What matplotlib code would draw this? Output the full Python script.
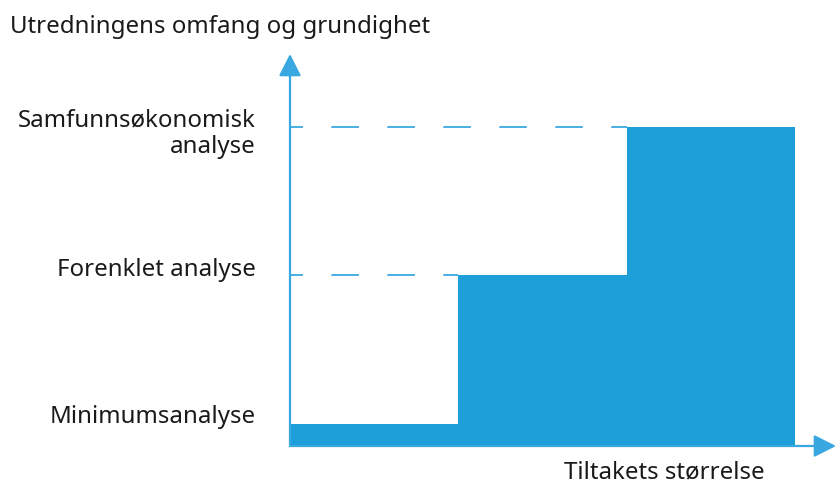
import matplotlib.pyplot as plt

plt.rcParams['font.family'] = ['Noto Sans', 'DejaVu Sans']
plt.rcParams['lines.scale_dashes'] = False

# trinnene: tiltakets størrelse (x-kant) og utredningsnivå (høyde)
steg_start = [0, 1, 2]
steg_hoyde = [0.07, 0.535, 1.0]
nivaa_navn = ['Minimumsanalyse', 'Forenklet analyse', 'Samfunnsøkonomisk\nanalyse']
nivaa_tekst_y = [0.095, 0.556, 0.982]

bla = '#1e9fda'
akse_bla = '#3aa8e0'
tekst = '#1a1a1a'
fs = 17.3

W, H = 837, 485
fig = plt.figure(figsize=(W / 100, H / 100), dpi=100)
# aksen: x=0 ved 290 px, 1 steg = 168.3 px; y=0 ved 447 px, y=1 ved 128 px
px_steg = 168.3
px_enhet = 319
ax = fig.add_axes([290 / W, 38 / H, (836 - 290) / W, (447 - 55) / H])
ax.set_xlim(0, (836 - 290) / px_steg)
ax.set_ylim(0, (447 - 55) / px_enhet)
ax.axis('off')

ax.bar(steg_start, steg_hoyde, width=1, align='edge', color=bla, linewidth=0)

# stiplede linjer fram til trinnene
for i in [1, 2]:
    ax.plot([0, steg_start[i]], [steg_hoyde[i], steg_hoyde[i]], color=akse_bla,
            lw=1.3, linestyle=(10.5, (19.8, 20.5)), dash_capstyle='butt',
            clip_on=False, zorder=1)

# akser med piler
xmax = ax.get_xlim()[1]
ymax = ax.get_ylim()[1]
pil = dict(arrowstyle='-|>,head_length=0.75,head_width=0.38', color=akse_bla, lw=1.6,
           shrinkA=0, shrinkB=0, mutation_scale=18)
ax.annotate('', xy=(xmax, 0), xytext=(0, 0), arrowprops=pil, annotation_clip=False)
ax.annotate('', xy=(0, ymax), xytext=(0, 0), arrowprops=pil, annotation_clip=False)

for navn, y in zip(nivaa_navn, nivaa_tekst_y):
    ax.text(-0.202, y, navn, ha='right', va='center', fontsize=fs, color=tekst,
            linespacing=1.1, multialignment='right')

fig.text(10 / W, 1 - 27 / H, 'Utredningens omfang og grundighet', ha='left', va='center',
         fontsize=fs, color=tekst)
fig.text(765 / W, 1 - 472 / H, 'Tiltakets størrelse', ha='right', va='center',
         fontsize=fs, color=tekst)

fig.savefig('out.png', dpi=100)
